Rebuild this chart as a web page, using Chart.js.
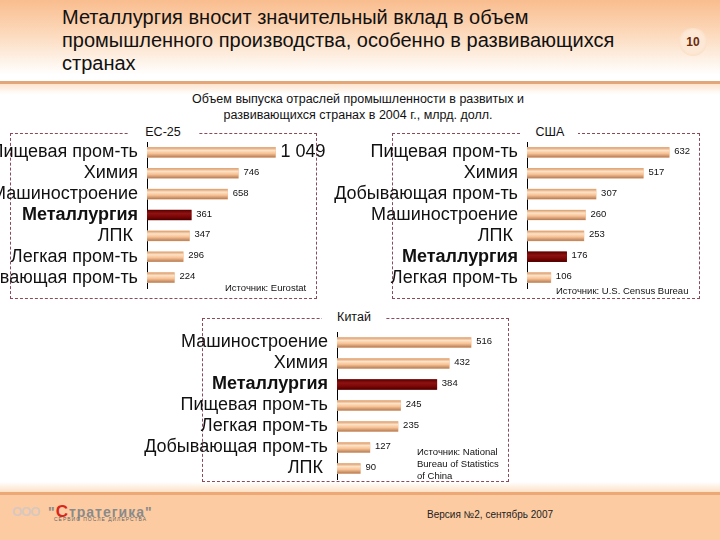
<!DOCTYPE html>
<html>
<head>
<meta charset="utf-8">
<script src="https://cdn.jsdelivr.net/npm/chart.js@4.4.0/dist/chart.umd.min.js"></script>
<style>
body { margin: 0; width: 720px; height: 540px; overflow: hidden; position: relative; background: #fff; font-family: "Liberation Sans", Arial, sans-serif; color: #000; }
.abs { position: absolute; }
#head { left: 0; top: 0; width: 720px; height: 81px; background: linear-gradient(#f9bd8e, #fcdcc0 45%, #fff 92%); }
#hline { left: 0; top: 81px; width: 720px; height: 3px; background: #e3a679; }
#hfade { left: 0; top: 84px; width: 720px; height: 10px; background: linear-gradient(#fde3cd, #fff); }
#title { left: 62px; top: 6px; font-family: "Liberation Sans Narrow", "Liberation Sans", Arial, sans-serif; font-size: 20px; line-height: 23px; color: #111; }
#page { left: 679px; top: 28px; width: 28px; height: 28px; border-radius: 50%; background: radial-gradient(#fde8d6 55%, #fbe0c8 70%, #fff 100%); font: bold 12px "Liberation Sans Narrow", "Liberation Sans", sans-serif; color: #6b2a0a; text-align: center; line-height: 28px; }
#sub { left: 0; top: 91px; width: 716px; text-align: center; font-size: 12.5px; line-height: 16px; color: #111; }
.box { border: 1px dashed #8a4a5a; }
.cap { background: #fff; font-size: 12.5px; text-align: center; line-height: 14px; color: #111; }
.src { font-size: 9.5px; line-height: 12px; color: #111; }
#ffade { left: 0; top: 482px; width: 720px; height: 10px; background: linear-gradient(#fff, #fde0c4); }
#fline { left: 0; top: 492px; width: 720px; height: 3px; background: #eda878; }
#foot { left: 0; top: 495px; width: 720px; height: 45px; background: #fdcba1; }
#ver { left: 427px; top: 509px; font-size: 10px; color: #222; }
#gray { left: 12px; top: 504px; font: bold 13px "Liberation Sans", sans-serif; color: #d8c8c0; letter-spacing: -1px; }
#logo { left: 48px; top: 502px; font: bold 14px "Liberation Sans", sans-serif; color: #8a8a8a; letter-spacing: 1px; }
#logo b { color: #d8261c; font-size: 17px; }
#tag { left: 54px; top: 516px; font-size: 5px; color: #666; letter-spacing: 1px; }
canvas { position: absolute; }
</style>
</head>
<body>
<div class="abs" id="head"></div>
<div class="abs" id="hline"></div>
<div class="abs" id="hfade"></div>
<div class="abs" id="title">Металлургия вносит значительный вклад в объем<br>промышленного производства, особенно в развивающихся<br>странах</div>
<div class="abs" id="page">10</div>
<div class="abs" id="sub">Объем выпуска отраслей промышленности в развитых и<br>развивающихся странах в 2004 г., млрд. долл.</div>

<div class="abs" id="ffade"></div>
<div class="abs" id="fline"></div>
<div class="abs" id="foot"></div>
<div class="abs" id="gray">ООО</div>
<div class="abs" id="logo">"<b>С</b>тратегика"</div>
<div class="abs" id="tag">СЕРВИС ПОСЛЕ ДИЛЕРСТВА</div>
<div class="abs" id="ver">Версия №2, сентябрь 2007</div>

<div class="abs box" style="left:10px;top:133px;width:305px;height:164px"></div>
<div class="abs cap" style="left:128px;top:125px;width:70px">ЕС-25</div>
<div class="abs box" style="left:392px;top:133px;width:306px;height:164px"></div>
<div class="abs cap" style="left:522px;top:125px;width:56px">США</div>
<div class="abs box" style="left:202px;top:318px;width:305px;height:162px"></div>
<div class="abs cap" style="left:322px;top:310px;width:64px">Китай</div>

<canvas id="cEU" width="386" height="190" style="left:-60px;top:120px"></canvas>
<canvas id="cUS" width="400" height="190" style="left:300px;top:120px"></canvas>
<canvas id="cCN" width="380" height="191" style="left:130px;top:310px"></canvas>

<div class="abs src" style="left:225px;top:282px">Источник: Eurostat</div>
<div class="abs src" style="left:556px;top:285px">Источник: U.S. Census Bureau</div>
<div class="abs src" style="left:417px;top:446px">Источник: National<br>Bureau of Statistics<br>of China</div>

<script>
// ЕС-25
var euLabels = ['Пищевая пром-ть', 'Химия', 'Машиностроение', 'Металлургия', 'ЛПК ', 'Легкая пром-ть', 'Добывающая пром-ть'];
var euValues = [1049, 746, 658, 361, 347, 296, 224];
var euText = ['1 049', '746', '658', '361', '347', '296', '224'];

// США
var usLabels = ['Пищевая пром-ть', 'Химия', 'Добывающая пром-ть', 'Машиностроение', 'ЛПК ', 'Металлургия', 'Легкая пром-ть'];
var usValues = [632, 517, 307, 260, 253, 176, 106];

// Китай
var cnLabels = ['Машиностроение', 'Химия', 'Металлургия', 'Пищевая пром-ть', 'Легкая пром-ть', 'Добывающая пром-ть', 'ЛПК '];
var cnValues = [516, 432, 384, 245, 235, 127, 90];

var metal = 'Металлургия';
var font = '"Liberation Sans", Arial, sans-serif';

// shading + value labels drawn on top of the library's bars
var barDecor = {
  id: 'barDecor',
  afterDatasetsDraw: function(chart) {
    var ctx = chart.ctx;
    var meta = chart.getDatasetMeta(0);
    var labels = chart.data.labels;
    var texts = chart.options.plugins.barDecor.texts;
    var big = chart.options.plugins.barDecor.big;
    ctx.save();
    meta.data.forEach(function(bar, i) {
      var h = bar.height, top = bar.y - h / 2;
      var g = ctx.createLinearGradient(0, top, 0, top + h);
      if (labels[i] == metal) {
        g.addColorStop(0, '#5e0000');
        g.addColorStop(0.35, '#8e1212');
        g.addColorStop(0.7, '#7a0505');
        g.addColorStop(1, '#4a0000');
      } else {
        g.addColorStop(0, '#d89a6c');
        g.addColorStop(0.3, '#fde2c6');
        g.addColorStop(0.6, '#f8c295');
        g.addColorStop(1, '#b27b56');
      }
      ctx.fillStyle = g;
      ctx.fillRect(bar.base, top, bar.x - bar.base, h);

      var t = texts ? texts[i] : String(chart.data.datasets[0].data[i]);
      ctx.fillStyle = '#111';
      ctx.textBaseline = 'middle';
      ctx.textAlign = 'left';
      if (i === big) {
        ctx.font = '18px ' + font;
        ctx.fillText(t, bar.x + 5, bar.y);
      } else {
        ctx.font = '9.5px ' + font;
        ctx.fillText(t, bar.x + 5, bar.y - 1);
      }
    });
    ctx.restore();
  }
};

function makeChart(id, labels, values, yWidth, xMax, padRight, texts, big) {
  var ctx = document.getElementById(id).getContext('2d');
  return new Chart(ctx, {
    type: 'bar',
    data: {
      labels: labels,
      datasets: [{
        data: values,
        backgroundColor: labels.map(function(l) { return l == metal ? '#7a0505' : '#f8c295'; }),
        barThickness: 10
      }]
    },
    options: {
      indexAxis: 'y',
      responsive: false,
      animation: false,
      layout: { padding: { top: 22, bottom: 22, left: 0, right: padRight } },
      plugins: {
        legend: { display: false },
        tooltip: { enabled: false },
        barDecor: { texts: texts, big: big }
      },
      scales: {
        x: { display: false, min: 0, max: xMax },
        y: {
          afterFit: function(scale) { scale.width = yWidth; },
          grid: { display: false, drawTicks: false },
          border: { display: true, color: '#000', width: 1 },
          ticks: {
            padding: 9,
            color: '#111',
            autoSkip: false,
            font: function(c) {
              return { family: font, size: 18, weight: labels[c.index] == metal ? 'bold' : 'normal' };
            }
          }
        }
      }
    },
    plugins: [barDecor]
  });
}

var chartEU = makeChart('cEU', euLabels, euValues, 207, 1216, 30, euText, 0);
var chartUS = makeChart('cUS', usLabels, usValues, 227, 724, 10, null, -1);
var chartCN = makeChart('cCN', cnLabels, cnValues, 207, 627, 10, null, -1);
</script>
</body>
</html>
